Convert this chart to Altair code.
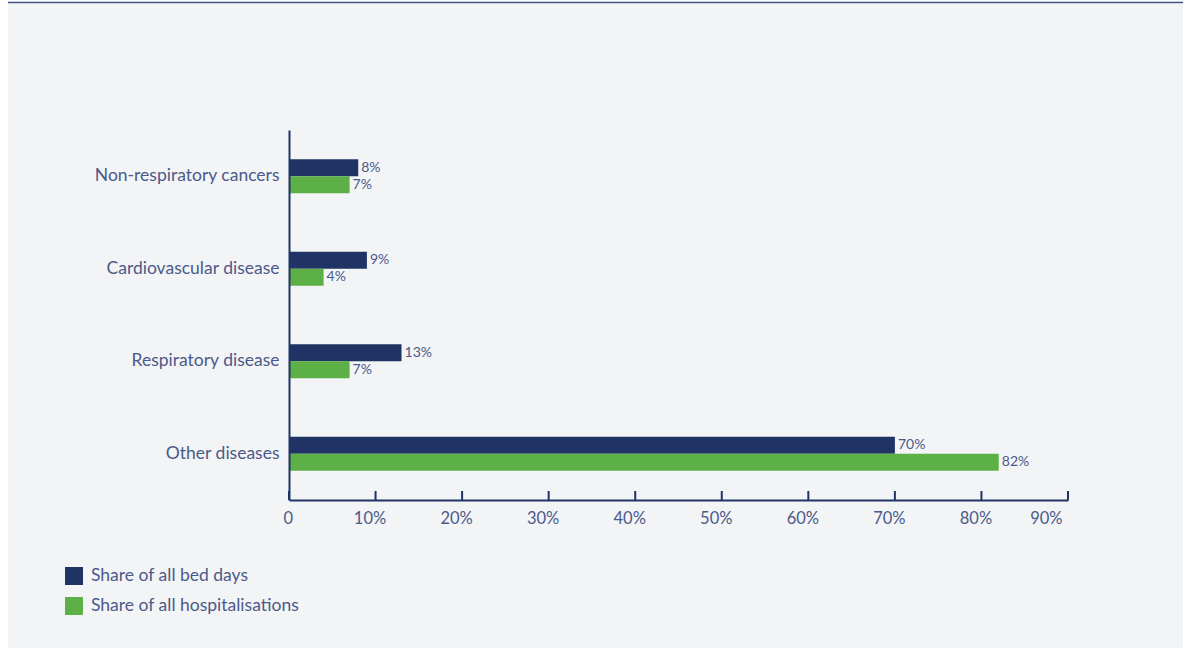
import altair as alt
import pandas as pd

categories = ["Non-respiratory cancers", "Cardiovascular disease", "Respiratory disease", "Other diseases"]
series = ["Share of all bed days", "Share of all hospitalisations"]
bed_days = [8, 9, 13, 70]
hospitalisations = [7, 4, 7, 82]
tick_values = [0, 10, 20, 30, 40, 50, 60, 70, 80, 90]

rows = []
for c, b, h in zip(categories, bed_days, hospitalisations):
    rows.append({"category": c, "series": series[0], "value": b, "label": f"{b}%"})
    rows.append({"category": c, "series": series[1], "value": h, "label": f"{h}%"})
df = pd.DataFrame(rows)
ticks_df = pd.DataFrame({"t": tick_values})

NAVY = "#1f3464"
GREEN = "#5db046"
TEXT = "#4b5a8a"
FONT = "Lato"

W, H = 779, 370

bg = alt.Chart(pd.DataFrame({"a": [0]})).mark_rect(color="#f3f4f6").encode(
    x=alt.value(-281), x2=alt.value(894), y=alt.value(-126), y2=alt.value(518)
)
topline = alt.Chart(pd.DataFrame({"a": [0]})).mark_rule(color="#3d4f80", strokeWidth=1.5).encode(
    x=alt.value(-281), x2=alt.value(894), y=alt.value(-127.5)
)

xscale = alt.Scale(domain=[0, 90], nice=False, zero=True)
yscale = alt.Scale(domain=categories, paddingInner=0.63, paddingOuter=0.315)

bars = alt.Chart(df).mark_bar(size=17).encode(
    x=alt.X("value:Q", scale=xscale,
            axis=alt.Axis(values=tick_values, ticks=False, grid=False, domainColor=NAVY, domainWidth=2,
                          labelExpr="datum.value == 0 ? '0' : datum.value + '%'",
                          labelFont=FONT, labelFontSize=16.5, labelColor=TEXT, labelPadding=10,
                          labelOffset=-6, title=None, zindex=1)),
    y=alt.Y("category:N", scale=yscale, sort=categories,
            axis=alt.Axis(ticks=False, grid=False, domainColor=NAVY, domainWidth=2,
                          labelFont=FONT, labelFontSize=17.5, labelColor=TEXT, labelPadding=10,
                          labelLimit=400, title=None, zindex=1)),
    yOffset=alt.YOffset("series:N", sort=series, scale=alt.Scale(paddingInner=0, paddingOuter=0)),
    color=alt.Color("series:N", sort=series,
                    scale=alt.Scale(domain=series, range=[NAVY, GREEN]),
                    legend=alt.Legend(orient="none", legendX=-224, legendY=437, title=None,
                                      symbolType="square", symbolSize=324, symbolStrokeWidth=0,
                                      symbolOpacity=1, rowPadding=12, labelLimit=400,
                                      labelFont=FONT, labelFontSize=17.5, labelColor=TEXT,
                                      labelOffset=8)),
)

labels = alt.Chart(df).mark_text(align="left", baseline="middle", dx=3, font=FONT, fontSize=14,
                                 color=TEXT).encode(
    x=alt.X("value:Q", scale=xscale),
    y=alt.Y("category:N", scale=yscale, sort=categories),
    yOffset=alt.YOffset("series:N", sort=series),
    text="label:N",
)

ticks = alt.Chart(ticks_df).mark_rule(color=NAVY, strokeWidth=2).encode(
    x=alt.X("t:Q", scale=xscale), y=alt.value(H - 9), y2=alt.value(H)
)

chart = alt.layer(bg, topline, bars, labels, ticks).properties(
    width=W, height=H,
    autosize=alt.AutoSizeParams(type="none"),
    padding={"left": 289, "top": 130, "right": 115, "bottom": 148},
    background="white",
).configure_view(stroke=None)

chart.save("out.html", embed_options={"renderer": "svg", "actions": False})
